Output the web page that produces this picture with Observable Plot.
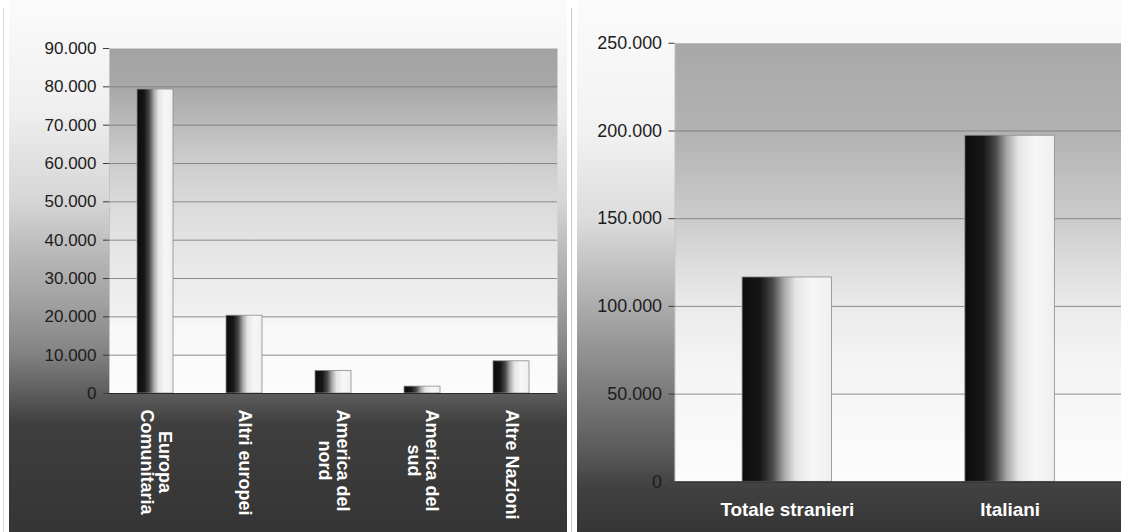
<!DOCTYPE html>
<html>
<head>
<meta charset="utf-8">
<script src="https://cdn.jsdelivr.net/npm/d3@7"></script>
<script src="https://cdn.jsdelivr.net/npm/@observablehq/plot@0.6"></script>
<style>
  html, body { margin: 0; padding: 0; background: #fff; width: 1121px; height: 532px; overflow: hidden; }
  body { position: relative; font-family: "Liberation Sans", Arial, sans-serif; }
  .panel { position: absolute; top: 0; height: 532px; overflow: hidden; }
  #left { left: 9px; width: 558px;
    background: linear-gradient(to bottom, #fbfbfb 0px, #efefef 110px, #d6d6d6 200px, #b5b5b5 260px, #a2a2a2 300px, #858585 350px, #5e5e5e 392px, #3e3e3e 425px, #353535 532px); }
  #right { left: 577px; width: 544px;
    background: linear-gradient(to bottom, #fbfbfb 0px, #f2f2f2 130px, #dcdcdc 220px, #ababab 307px, #7a7a7a 395px, #555555 460px, #424242 485px, #353535 532px); }
  #sep { position: absolute; left: 571px; top: 8px; width: 1px; height: 524px; background: #c8c8c8; }
  #sep0 { position: absolute; left: 3px; top: 8px; width: 1px; height: 524px; background: #d8d8d8; }
  svg { display: block; background: transparent !important; overflow: visible; }
</style>
</head>
<body>
<div id="sep0"></div>
<div id="left" class="panel"></div>
<div id="sep"></div>
<div id="right" class="panel"></div>
<script>
// ---- data ----
const leftCategories = ["Europa\nComunitaria", "Altri europei", "America del\nnord", "America del\nsud", "Altre Nazioni"];
const leftValues = [79300, 20300, 5900, 1800, 8400];
const leftTicks = [0, 10000, 20000, 30000, 40000, 50000, 60000, 70000, 80000, 90000];

const rightCategories = ["Totale stranieri", "Italiani"];
const rightValues = [116500, 197300];
const rightTicks = [0, 50000, 100000, 150000, 200000, 250000];

const itFmt = d3.formatLocale({decimal: ",", thousands: ".", grouping: [3], currency: ["€", ""]}).format(",.0f");

function defs(html) {
  return () => {
    const g = document.createElementNS("http://www.w3.org/2000/svg", "g");
    g.innerHTML = html;
    return g;
  };
}

const barGrad = (id) => `<defs><linearGradient id="${id}" x1="0" y1="0" x2="1" y2="0">
  <stop offset="0" stop-color="#0c0c0c"/>
  <stop offset="0.2" stop-color="#161616"/>
  <stop offset="0.34" stop-color="#484848"/>
  <stop offset="0.47" stop-color="#a8a8a8"/>
  <stop offset="0.6" stop-color="#e6e6e6"/>
  <stop offset="0.78" stop-color="#f7f7f7"/>
  <stop offset="1" stop-color="#efefef"/>
</linearGradient></defs>`;

const FONT = "Liberation Sans, Arial, sans-serif";

// ---- left chart ----
const leftData = leftCategories.map((c, i) => ({cat: c, value: leftValues[i]}));
const leftPlot = Plot.plot({
  width: 558, height: 532,
  marginLeft: 100, marginRight: 10, marginTop: 48, marginBottom: 139,
  style: {fontFamily: FONT, background: "transparent"},
  x: {domain: leftCategories, paddingInner: 0.6, paddingOuter: 0.3, label: null},
  y: {domain: [0, 90000], label: null},
  marks: [
    defs(`<defs><linearGradient id="paL" x1="0" y1="0" x2="0" y2="1">
      <stop offset="0" stop-color="#a2a2a2"/>
      <stop offset="0.12" stop-color="#a9a9a9"/>
      <stop offset="0.3" stop-color="#c9c9c9"/>
      <stop offset="0.45" stop-color="#dadada"/>
      <stop offset="0.6" stop-color="#e7e7e7"/>
      <stop offset="0.76" stop-color="#f0f0f0"/>
      <stop offset="0.8" stop-color="#f8f8f8"/>
      <stop offset="1" stop-color="#fcfcfc"/>
    </linearGradient></defs>` + barGrad("barL")),
    Plot.frame({fill: "url(#paL)", stroke: null}),
    Plot.frame({anchor: "left", stroke: "#c4c4c4"}),
    Plot.gridY(leftTicks.filter(t => t > 0 && t < 90000), {stroke: "#7a7a7a", strokeOpacity: 0.85, strokeWidth: 1}),
    Plot.barY(leftData, {x: "cat", y: "value", fill: "url(#barL)", stroke: "#8c8c8c", strokeWidth: 0.8}),
    Plot.ruleY([0], {stroke: "#2a2a2a", strokeWidth: 1.2}),
    Plot.axisY({ticks: leftTicks, tickFormat: itFmt, tickSize: 6, tickPadding: 7, fontSize: 17, color: "#1c1c1c", stroke: "#3a3a3a"}),
    Plot.axisX({tickRotate: 90, tickSize: 0, tickPadding: 16, fontSize: 18, fontWeight: "bold", fill: "#ffffff"})
  ]
});
document.getElementById("left").appendChild(leftPlot);

// center multi-line rotated labels within their block
leftPlot.querySelectorAll('[aria-label="x-axis tick label"] text').forEach(t => {
  const sp = t.querySelectorAll("tspan");
  if (sp.length < 2) return;
  const lens = [...sp].map(s => s.getComputedTextLength());
  const m = Math.max(...lens);
  t.setAttribute("text-anchor", "middle");
  sp.forEach(s => s.setAttribute("x", m / 2));
});

// ---- right chart ----
const rightData = rightCategories.map((c, i) => ({cat: c, value: rightValues[i]}));
const rightPlot = Plot.plot({
  width: 547, height: 532,
  marginLeft: 98, marginRight: 0, marginTop: 43, marginBottom: 48,
  style: {fontFamily: FONT, background: "transparent"},
  x: {domain: rightCategories, paddingInner: 0.6, paddingOuter: 0.3, label: null},
  y: {domain: [0, 250000], label: null},
  marks: [
    defs(`<defs><linearGradient id="paR" x1="0" y1="0" x2="0" y2="1">
      <stop offset="0" stop-color="#a8a8a8"/>
      <stop offset="0.2" stop-color="#b2b2b2"/>
      <stop offset="0.4" stop-color="#cbcbcb"/>
      <stop offset="0.5" stop-color="#dcdcdc"/>
      <stop offset="0.6" stop-color="#ebebeb"/>
      <stop offset="0.75" stop-color="#f5f5f5"/>
      <stop offset="1" stop-color="#fcfcfc"/>
    </linearGradient></defs>` + barGrad("barR")),
    Plot.frame({fill: "url(#paR)", stroke: null}),
    Plot.frame({anchor: "left", stroke: "#c4c4c4"}),
    Plot.gridY(rightTicks.filter(t => t > 0 && t < 250000), {stroke: "#7a7a7a", strokeOpacity: 0.85, strokeWidth: 1}),
    Plot.barY(rightData, {x: "cat", y: "value", fill: "url(#barR)", stroke: "#8c8c8c", strokeWidth: 0.8}),
    Plot.ruleY([0], {stroke: "#2a2a2a", strokeWidth: 1.2}),
    Plot.axisY({ticks: rightTicks, tickFormat: itFmt, tickSize: 6, tickPadding: 7, fontSize: 18, color: "#1c1c1c", stroke: "#3a3a3a"}),
    Plot.axisX({tickSize: 0, tickPadding: 21, fontSize: 19, fontWeight: "bold", fill: "#ffffff"})
  ]
});
document.getElementById("right").appendChild(rightPlot);
</script>
</body>
</html>
